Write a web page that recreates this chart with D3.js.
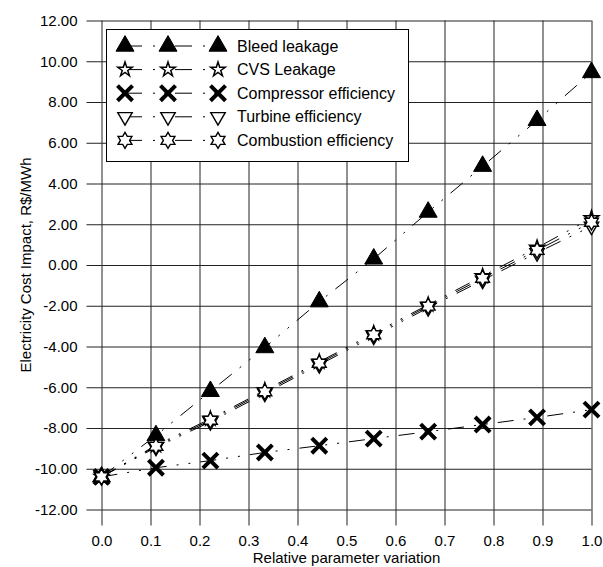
<!DOCTYPE html>
<html>
<head>
<meta charset="utf-8">
<script src="https://cdn.jsdelivr.net/npm/d3@7"></script>
<style>
  body { margin: 0; background: #fff; }
  text { font-family: "Liberation Sans", Arial, sans-serif; fill: #000; }
</style>
</head>
<body>
<div id="chart"></div>
<script>
// chart data
const xValues = [0, 1/9, 2/9, 3/9, 4/9, 5/9, 6/9, 7/9, 8/9, 1];
const bleedLeakage = [-10.4, -8.37, -6.2, -4.05, -1.8, 0.3, 2.6, 4.85, 7.1, 9.45];
const cvsLeakage = [-10.4, -8.85, -7.55, -6.15, -4.75, -3.35, -1.95, -0.55, 0.85, 2.3];
const compressorEff = [-10.4, -9.95, -9.6, -9.2, -8.87, -8.52, -8.18, -7.83, -7.48, -7.1];
const turbineEff = [-10.4, -8.95, -7.7, -6.3, -4.9, -3.5, -2.1, -0.75, 0.6, 1.9];
const combustionEff = [-10.4, -8.9, -7.62, -6.22, -4.82, -3.42, -2.02, -0.65, 0.72, 2.1];
const seriesNames = ["Bleed leakage", "CVS Leakage", "Compressor efficiency", "Turbine efficiency", "Combustion efficiency"];
const xTicks = [0, 0.1, 0.2, 0.3, 0.4, 0.5, 0.6, 0.7, 0.8, 0.9, 1.0];
const yTicks = [-12, -10, -8, -6, -4, -2, 0, 2, 4, 6, 8, 10, 12];

const width = 603, height = 567;
const margin = {top: 20.5, right: 11.5, bottom: 57.5, left: 101.5};

const svg = d3.select("#chart")
  .append("svg")
  .attr("width", width)
  .attr("height", height);

const xScale = d3.scaleLinear()
  .domain([0, 1])
  .range([margin.left, width - margin.right]);

const yScale = d3.scaleLinear()
  .domain([-12, 12])
  .range([height - margin.bottom, margin.top]);

const plotW = width - margin.left - margin.right;
const plotH = height - margin.top - margin.bottom;

// grid lines
svg.append("g")
  .attr("transform", `translate(0,${margin.top})`)
  .call(d3.axisBottom(xScale).tickValues(xTicks).tickSize(plotH).tickFormat(""))
  .call(g => g.select(".domain").remove())
  .selectAll("line").attr("stroke", "#222");

svg.append("g")
  .attr("transform", `translate(${margin.left},0)`)
  .call(d3.axisRight(yScale).tickValues(yTicks).tickSize(plotW).tickFormat(""))
  .call(g => g.select(".domain").remove())
  .selectAll("line").attr("stroke", "#222");

// x axis (ticks go out below)
const xAxis = svg.append("g")
  .attr("transform", `translate(0,${height - margin.bottom})`)
  .call(d3.axisBottom(xScale).tickValues(xTicks).tickSize(16).tickPadding(10)
    .tickFormat(d => d.toFixed(1)));
xAxis.select(".domain").remove();
xAxis.selectAll("line").attr("stroke", "#222");
xAxis.selectAll("text").attr("font-size", "15px").attr("font-family", null);

// y axis (ticks go out to the left)
const yAxis = svg.append("g")
  .attr("transform", `translate(${margin.left},0)`)
  .call(d3.axisLeft(yScale).tickValues(yTicks).tickSize(15).tickPadding(9)
    .tickFormat(d => d.toFixed(2)));
yAxis.select(".domain").remove();
yAxis.selectAll("line").attr("stroke", "#222");
yAxis.selectAll("text").attr("font-size", "15px").attr("font-family", null);

// axis titles
svg.append("text")
  .attr("x", (margin.left + width - margin.right) / 2)
  .attr("y", 563)
  .attr("text-anchor", "middle")
  .attr("font-size", "15px")
  .text("Relative parameter variation");

svg.append("text")
  .attr("transform", `translate(31,${(margin.top + height - margin.bottom) / 2}) rotate(-90)`)
  .attr("text-anchor", "middle")
  .attr("font-size", "15px")
  .text("Electricity Cost Impact, R$/MWh");

// marker shapes
const star6 = (() => {
  let pts = [];
  for (let i = 0; i < 12; i++) {
    const r = i % 2 === 0 ? 8 : 4.6;
    const a = Math.PI / 6 * i - Math.PI / 2;
    pts.push([r * Math.cos(a), r * Math.sin(a)]);
  }
  return "M" + pts.map(p => p.join(",")).join("L") + "Z";
})();

const markers = [
  {path: d3.symbol(d3.symbolTriangle, 140)(), fill: "#000", sw: 1, rot: 0},
  {path: d3.symbol(d3.symbolStar, 65)(), fill: "#fff", sw: 1.5, rot: 0},
  {path: d3.symbol(d3.symbolTimes, 150)(), fill: "none", sw: 4, rot: 0},
  {path: d3.symbol(d3.symbolTriangle, 90)(), fill: "#fff", sw: 1.4, rot: 180},
  {path: star6, fill: "#fff", sw: 1.4, rot: 0}
];

const allSeries = [bleedLeakage, cvsLeakage, compressorEff, turbineEff, combustionEff];
const dash = "16,10,2,10,2,10";

const line = d3.line()
  .x((d, i) => xScale(xValues[i]))
  .y(d => yScale(d));

// lines
allSeries.forEach(vals => {
  svg.append("path")
    .datum(vals)
    .attr("d", line)
    .attr("fill", "none")
    .attr("stroke", "#000")
    .attr("stroke-width", 1)
    .attr("stroke-dasharray", dash);
});

// points
allSeries.forEach((vals, s) => {
  const m = markers[s];
  svg.append("g").selectAll("path")
    .data(vals)
    .enter()
    .append("path")
      .attr("d", m.path)
      .attr("transform", (d, i) => `translate(${xScale(xValues[i])},${yScale(d)}) rotate(${m.rot})`)
      .attr("fill", m.fill)
      .attr("stroke", "#000")
      .attr("stroke-width", m.sw);
});

// legend
const legend = svg.append("g");
legend.append("rect")
  .attr("x", 106.5).attr("y", 29.5)
  .attr("width", 302).attr("height", 132)
  .attr("fill", "#fff").attr("stroke", "#000");

const legX = [125, 168, 218];
seriesNames.forEach((name, s) => {
  const y = 46 + s * 23.6;
  const m = markers[s];
  legend.append("line")
    .attr("x1", legX[0]).attr("x2", legX[2])
    .attr("y1", y).attr("y2", y)
    .attr("stroke", "#000")
    .attr("stroke-dasharray", "17,11,2,9,2,9");
  legX.forEach(x => {
    legend.append("path")
      .attr("d", m.path)
      .attr("transform", `translate(${x},${y}) rotate(${m.rot})`)
      .attr("fill", m.fill)
      .attr("stroke", "#000")
      .attr("stroke-width", m.sw);
  });
  legend.append("text")
    .attr("x", 237).attr("y", y)
    .attr("dy", "0.35em")
    .attr("font-size", "16px")
    .text(name);
});
</script>
</body>
</html>
